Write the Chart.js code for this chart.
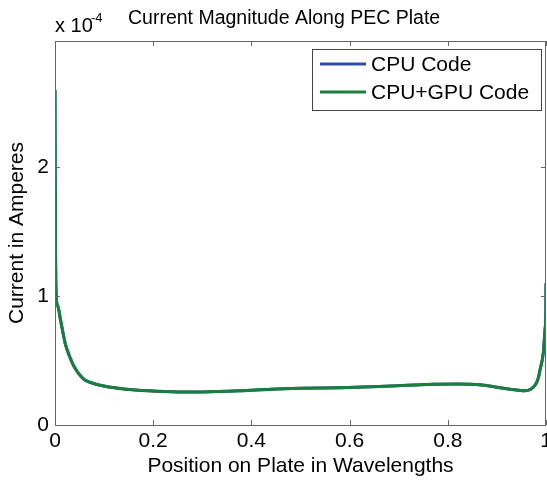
<!DOCTYPE html>
<html>
<head>
<meta charset="utf-8">
<script src="https://cdn.jsdelivr.net/npm/chart.js@4"></script>
<style>
  body { margin: 0; background: #fff; }
  #wrap { width: 547px; height: 480px; }
</style>
</head>
<body>
<div id="wrap"><canvas id="plate"></canvas></div>
<script>
'use strict'

// position along plate (wavelengths) and current (x 1e-4 A)
const positions = [0, 0.0005, 0.001, 0.0025, 0.006, 0.012, 0.021, 0.03, 0.038, 0.05, 0.061, 0.08, 0.102, 0.14, 0.19, 0.25, 0.3, 0.377, 0.44, 0.5, 0.58, 0.66, 0.73, 0.77, 0.82, 0.845, 0.87, 0.913, 0.94, 0.957, 0.968, 0.978, 0.984, 0.988, 0.9945, 0.998, 0.9995, 1.0]
const cpuCurrent = [2.6, 1.9, 1.4, 1.0, 0.92, 0.8, 0.63, 0.53, 0.46, 0.39, 0.35, 0.32, 0.30, 0.28, 0.265, 0.257, 0.257, 0.265, 0.278, 0.285, 0.29, 0.298, 0.31, 0.317, 0.318, 0.317, 0.31, 0.286, 0.272, 0.265, 0.275, 0.31, 0.36, 0.43, 0.56, 0.74, 0.85, 1.1]
const gpuCurrent = [2.6, 1.9, 1.4, 1.0, 0.92, 0.8, 0.63, 0.53, 0.46, 0.39, 0.35, 0.32, 0.30, 0.28, 0.265, 0.257, 0.257, 0.265, 0.278, 0.285, 0.29, 0.298, 0.31, 0.317, 0.318, 0.317, 0.31, 0.286, 0.272, 0.265, 0.275, 0.31, 0.36, 0.43, 0.56, 0.74, 0.85, 1.1]
const seriesNames = ['CPU Code', 'CPU+GPU Code']
const xTicks = [0, 0.2, 0.4, 0.6, 0.8, 1]
const yTicks = [0, 1, 2]

const FONT = 'Liberation Sans, Arial, sans-serif'
const BLUE = '#2c4ca6'
const GREEN = '#1a7f3c'

function pts(ys) {
    return positions.map((x, i) => ({x: x, y: ys[i]}))
}

// matlab-ish box, inward ticks, title, exponent and legend
const matlabLook = {
    id: 'matlabLook',
    afterDraw(chart) {
        const c = chart.ctx
        const a = chart.chartArea
        const xs = chart.scales.x
        const ys = chart.scales.y
        c.save()
        c.strokeStyle = '#666'
        c.lineWidth = 1
        c.strokeRect(a.left + 0.5, a.top + 0.5, a.right - a.left - 1, a.bottom - a.top)
        c.beginPath()
        xTicks.forEach(v => {
            const px = Math.round(xs.getPixelForValue(v)) + 0.5
            c.moveTo(px, a.bottom); c.lineTo(px, a.bottom - 5)
            c.moveTo(px, a.top); c.lineTo(px, a.top + 5)
        })
        yTicks.forEach(v => {
            const py = Math.round(ys.getPixelForValue(v)) + 0.5
            c.moveTo(a.left, py); c.lineTo(a.left + 5, py)
            c.moveTo(a.right, py); c.lineTo(a.right - 5, py)
        })
        c.stroke()

        c.fillStyle = '#000'
        c.textBaseline = 'alphabetic'
        c.textAlign = 'left'
        c.font = '19.5px ' + FONT
        c.fillText('Current Magnitude Along PEC Plate', 128, 24)
        c.font = '20px ' + FONT
        c.fillText('x 10', 55, 32)
        c.font = '13px ' + FONT
        c.fillText('-4', 91, 22)

        // legend
        c.fillStyle = '#fff'
        c.fillRect(312, 49, 229, 61)
        c.strokeStyle = '#444'
        c.strokeRect(312.5, 49.5, 229, 61)
        const rows = [64, 92]
        chart.data.datasets.forEach((ds, i) => {
            c.strokeStyle = ds.borderColor
            c.lineWidth = 3
            c.beginPath()
            c.moveTo(320, rows[i]); c.lineTo(366, rows[i])
            c.stroke()
            c.fillStyle = '#000'
            c.font = '21px ' + FONT
            c.textBaseline = 'middle'
            c.fillText(ds.label, 371, rows[i] + 1)
        })
        c.restore()
    }
}

new Chart(document.getElementById('plate'), {
    type: 'line',
    data: {
        datasets: [
            {label: seriesNames[0], data: pts(cpuCurrent), borderColor: BLUE, borderWidth: 3, pointRadius: 0, order: 2, cubicInterpolationMode: 'monotone'},
            {label: seriesNames[1], data: pts(gpuCurrent), borderColor: GREEN, borderWidth: 3, pointRadius: 0, order: 1, cubicInterpolationMode: 'monotone'}
        ]
    },
    options: {
        responsive: true,
        maintainAspectRatio: false,
        animation: false,
        layout: {padding: {top: 41, right: 1, left: 0, bottom: 0}},
        plugins: {legend: {display: false}, tooltip: {enabled: false}},
        scales: {
            x: {
                type: 'linear', min: 0, max: 1,
                grid: {display: false, drawTicks: false},
                border: {display: false},
                afterBuildTicks: s => { s.ticks = xTicks.map(v => ({value: v})) },
                afterFit: s => { s.height = 55; s.paddingLeft = 0; s.paddingRight = 0 },
                ticks: {
                    color: '#000', font: {family: FONT, size: 21}, padding: 4, maxRotation: 0,
                    callback: v => (v === 0 || v === 1) ? String(v) : v.toFixed(1)
                },
                title: {display: true, text: 'Position on Plate in Wavelengths', color: '#000', font: {family: FONT, size: 21}, padding: {top: 1, bottom: 1}}
            },
            y: {
                type: 'linear', min: 0, max: 2.98,
                grid: {display: false, drawTicks: false},
                border: {display: false},
                afterBuildTicks: s => { s.ticks = yTicks.map(v => ({value: v})) },
                afterFit: s => { s.width = 55; s.paddingTop = 0; s.paddingBottom = 0 },
                ticks: {color: '#000', font: {family: FONT, size: 21}, padding: 6},
                title: {display: true, text: 'Current in Amperes', color: '#000', font: {family: FONT, size: 21}, padding: {top: 5, bottom: 0}}
            }
        }
    },
    plugins: [matlabLook]
})
</script>
</body>
</html>
